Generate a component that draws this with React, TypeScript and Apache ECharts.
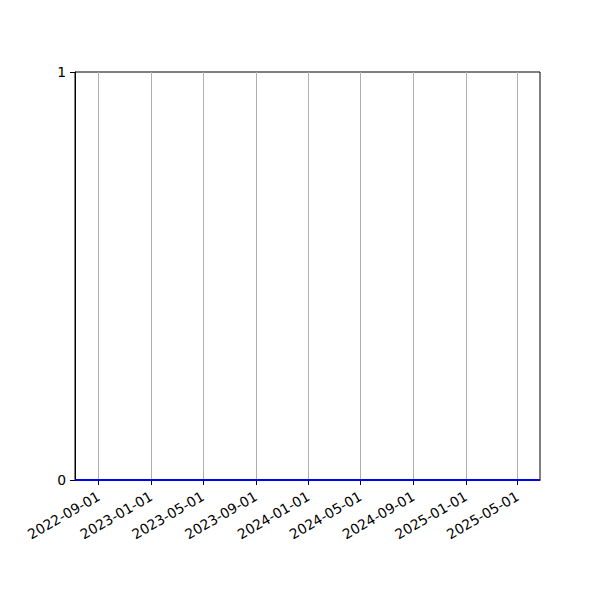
import { useEffect, useRef } from 'react';
import * as echarts from 'echarts';

// series: dates and values (all zero)
const dates = [
    '2022-07-08',
    '2023-01-15',
    '2023-07-20',
    '2024-01-10',
    '2024-07-05',
    '2025-01-12',
    '2025-06-22',
];
const values = [0, 0, 0, 0, 0, 0, 0];

// tick labels
const xTicks = [
    '2022-09-01',
    '2023-01-01',
    '2023-05-01',
    '2023-09-01',
    '2024-01-01',
    '2024-05-01',
    '2024-09-01',
    '2025-01-01',
    '2025-05-01',
];
const yTicks = [0, 1];

const FONT = 'DejaVu Sans';

export default function App() {
    const chartRef = useRef<HTMLDivElement>(null);

    useEffect(() => {
        if (!chartRef.current) return;
        const chart = echarts.init(chartRef.current, undefined, { renderer: 'svg' });

        const tickTimes = xTicks.map((d) => Date.parse(d));
        const times = dates.map((d) => Date.parse(d));

        chart.setOption({
            animation: false,
            backgroundColor: '#ffffff',
            grid: {
                left: 75,
                right: 60,
                top: 72,
                bottom: 120,
                show: true,
                borderColor: '#000000',
                borderWidth: 1,
            },
            xAxis: {
                type: 'value',
                min: Math.min(...times),
                max: Math.max(...times),
                axisLine: { show: true, lineStyle: { color: '#000000', width: 1 } },
                axisTick: {
                    show: true,
                    length: 5,
                    lineStyle: { color: '#000000', width: 1 },
                    customValues: tickTimes,
                },
                axisLabel: {
                    customValues: tickTimes,
                    rotate: 30,
                    margin: 15,
                    color: '#000000',
                    fontFamily: FONT,
                    fontSize: 13.9,
                    formatter: (v: number) => new Date(v).toISOString().slice(0, 10),
                },
                splitLine: { show: false },
            },
            yAxis: {
                type: 'value',
                min: 0,
                max: 1,
                interval: 1,
                axisLine: { show: true, lineStyle: { color: '#000000', width: 1 } },
                axisTick: {
                    show: true,
                    length: 5,
                    lineStyle: { color: '#000000', width: 1 },
                },
                axisLabel: {
                    margin: 9,
                    color: '#000000',
                    fontFamily: FONT,
                    fontSize: 13.9,
                    formatter: (v: number) => (yTicks.includes(v) ? String(v) : ''),
                },
                splitLine: { show: false },
            },
            series: [
                {
                    type: 'line',
                    data: times.map((t, i) => [t, values[i]]),
                    showSymbol: false,
                    clip: false,
                    lineStyle: { color: '#0000ee', width: 2 },
                    z: 3,
                    markLine: {
                        silent: true,
                        symbol: 'none',
                        label: { show: false },
                        lineStyle: { color: '#b0b0b0', width: 1, type: 'solid' },
                        z: 1,
                        data: tickTimes.map((t) => ({ xAxis: t })),
                    },
                },
            ],
        });

        return () => {
            chart.dispose();
        };
    }, []);

    return (
        <div
            ref={chartRef}
            style={{ position: 'fixed', left: 0, top: 0, width: 600, height: 600 }}
        />
    );
}
